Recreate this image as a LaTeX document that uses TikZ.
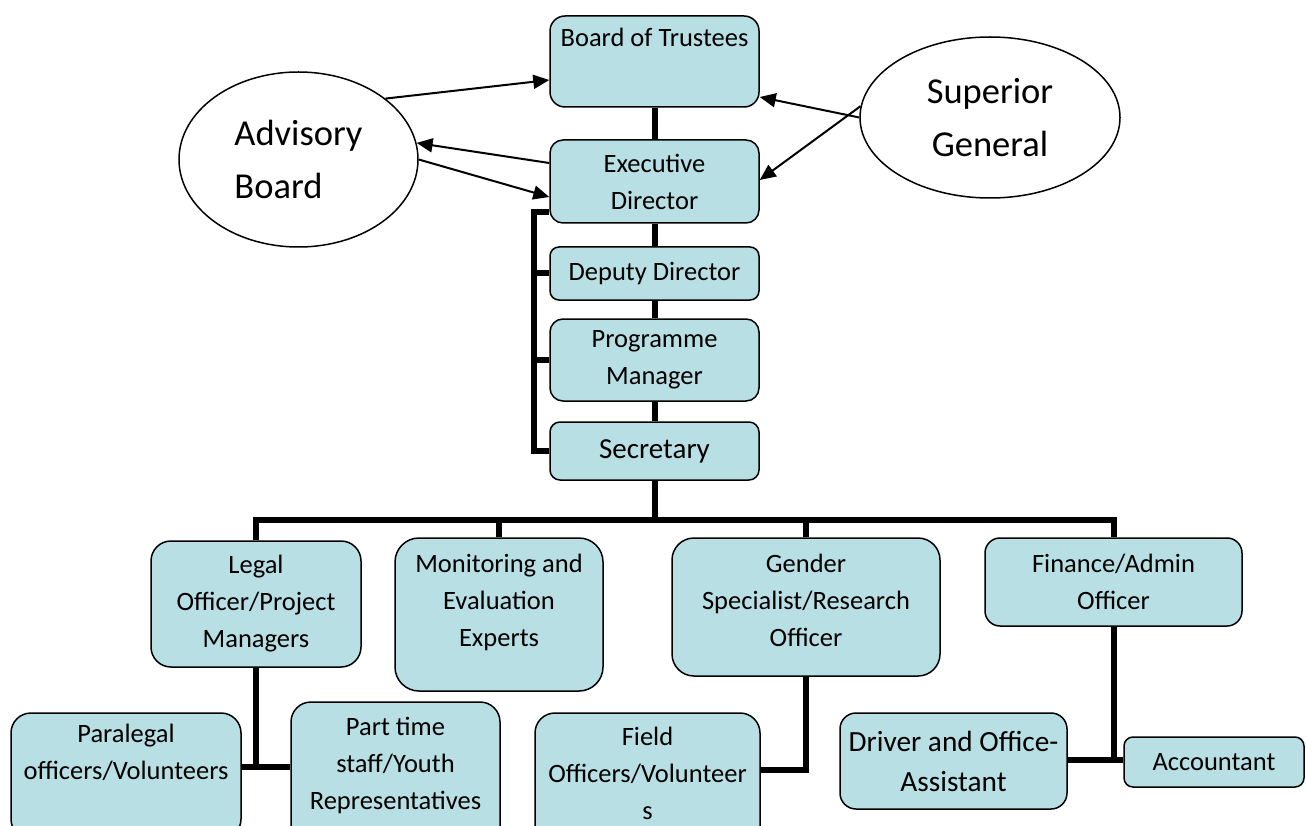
\documentclass[tikz,border=0pt]{standalone}
\usepackage{fontspec}
\setmainfont{Carlito}
\usetikzlibrary{arrows.meta,shapes.geometric}
\definecolor{boxfill}{RGB}{184,223,227}
\begin{document}
\begin{tikzpicture}[x=1pt,y=1pt,yscale=-1,
  post/.style={draw=black,line width=1.5pt,fill=boxfill,rounded corners=#1,align=center,inner sep=4pt,font=\fontsize{26.5}{37}\selectfont},
  post/.default=12pt,
  party/.style={ellipse,draw=black,line width=1.5pt,fill=white,font=\fontsize{36.5}{53}\selectfont},
  link/.style={line width=6pt},
  rel/.style={line width=2pt,-{Triangle[length=16pt,width=14pt]}}]
\useasboundingbox (0,0) rectangle (1306,826);
\clip (0,0) rectangle (1306,826);
\node[post=15pt,minimum width=209,minimum height=91] (bot) at (654.5,61.5) {Board of Trustees\\\strut};
\node[post=13pt,minimum width=209,minimum height=83] (exec) at (654.5,181.5) {Executive\\Director};
\node[post=9pt,minimum width=209,minimum height=53] (deputy) at (654.5,273.5) {Deputy Director};
\node[post=13pt,minimum width=209,minimum height=82] (prog) at (654.5,360) {Programme\\Manager};
\node[post=10pt,minimum width=209,minimum height=58,font=\fontsize{29}{40}\selectfont] (sec) at (654.5,451) {Secretary};
\node[post=20pt,minimum width=210,minimum height=126] (legal) at (256,604) {Legal\\Officer/Project\\Managers};
\node[post=24pt,minimum width=208,minimum height=153] (monitor) at (499,614.5) {Monitoring and\\Evaluation\\Experts\\[-20pt]\strut};
\node[post=22pt,minimum width=268,minimum height=138] (gender) at (806,607) {Gender\\Specialist/Research\\Officer\\[-35pt]\strut};
\node[post=15pt,minimum width=257,minimum height=88] (finance) at (1113.5,582) {Finance/Admin\\Officer};
\node[post=20pt,minimum width=230,minimum height=126] (para) at (126,776) {Paralegal\\officers/Volunteers\\\strut};
\node[post=20pt,minimum width=209,minimum height=170] (part) at (395.5,787) {Part time\\staff/Youth\\Representatives\\\strut};
\node[post=20pt,minimum width=225,minimum height=168] (field) at (647.5,797) {Field\\Officers/Volunteer\\s\\\strut};
\node[post=16pt,minimum width=227,minimum height=96,font=\fontsize{29.3}{40}\selectfont] (driver) at (953.5,761) {Driver and Office-\\Assistant};
\node[post=9pt,minimum width=180,minimum height=50] (acct) at (1214,762) {Accountant};
\node[party,minimum width=239,minimum height=175,align=left] (adv) at (298.5,159.5) {Advisory\\Board};
\node[party,minimum width=260,minimum height=161,align=center] (sup) at (990,117.5) {Superior\\General};
\draw[link] (bot) -- (exec);
\draw[link] (exec) -- (deputy);
\draw[link] (deputy) -- (prog);
\draw[link] (prog) -- (sec);
\coordinate (bus) at (654.5,520);
\draw[link] (sec) -- (bus);
\draw[link] (legal.north) |- (bus) -| (finance.north);
\draw[link] (monitor.north) -- (monitor.north |- bus);
\draw[link] (gender.north) -- (gender.north |- bus);
\draw[link] (exec.west |- 0,212) -- ++(-15,0) |- (sec.west);
\draw[link] (deputy.west) -- ++(-15,0);
\draw[link] (prog.west) -- ++(-15,0);
\coordinate (legaljoin) at (256,767);
\draw[link] (legal) -- (legaljoin);
\draw[link] (para.east |- legaljoin) -- (part.west |- legaljoin);
\coordinate (genderjoin) at (806,770);
\draw[link] (gender) -- (genderjoin) -- (field.east |- genderjoin);
\coordinate (financejoin) at (1113.5,760);
\draw[link] (finance) -- (financejoin);
\draw[link] (driver.east |- financejoin) -- (acct.west |- financejoin);
\draw[rel] (adv.35) -- (bot.west |- 0,80);
\draw[rel] (exec.west |- 0,163) -- (adv.8);
\draw[rel] (adv.east) -- (exec.west |- 0,197);
\draw[rel] (sup.west) -- (bot.east |- 0,97);
\draw[rel] (sup.175) -- (exec.east |- 0,180);
\end{tikzpicture}
\end{document}
